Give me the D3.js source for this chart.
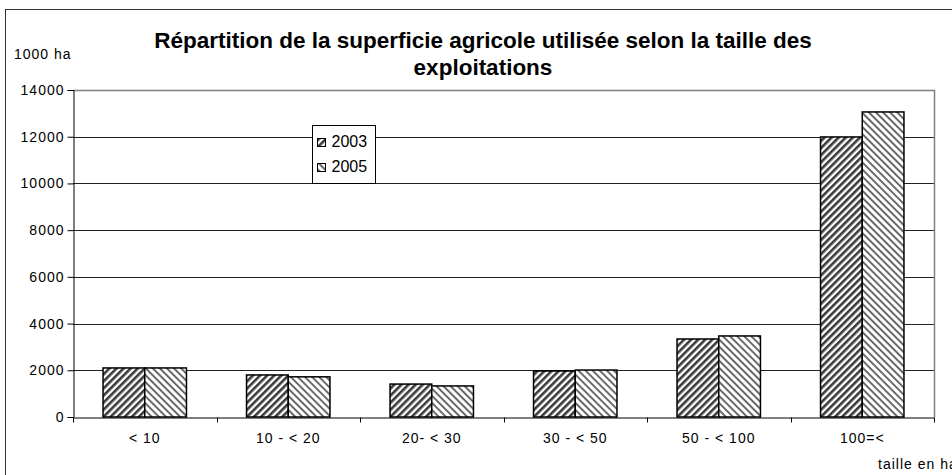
<!DOCTYPE html>
<html>
<head>
<meta charset="utf-8">
<script src="https://cdn.jsdelivr.net/npm/d3@7"></script>
<style>
body { margin: 0; background: #fff; }
svg { display: block; font-family: "Liberation Sans", Arial, sans-serif; }
</style>
</head>
<body>
<script>
// data
var categories = ["< 10", "10 - < 20", "20- < 30", "30 - < 50", "50 - < 100", "100=<"];
var years = ["2003", "2005"];
var values2003 = [2100, 1800, 1410, 1970, 3340, 11990];
var values2005 = [2100, 1720, 1330, 2010, 3470, 13060];
var yTicks = [0, 2000, 4000, 6000, 8000, 10000, 12000, 14000];

var W = 952, H = 475;
var plot = { left: 73, top: 90, right: 934, bottom: 417 };

var svg = d3.select("body").append("svg")
    .attr("width", W)
    .attr("height", H);

// hatch patterns
var defs = svg.append("defs");
var p1 = defs.append("pattern")
    .attr("id", "hatch2003")
    .attr("patternUnits", "userSpaceOnUse")
    .attr("width", 5).attr("height", 5)
    .attr("patternTransform", "rotate(45)");
p1.append("rect").attr("width", 5).attr("height", 5).attr("fill", "#fff");
p1.append("rect").attr("width", 2.6).attr("height", 5).attr("fill", "#3a3a3a");
var p2 = defs.append("pattern")
    .attr("id", "hatch2005")
    .attr("patternUnits", "userSpaceOnUse")
    .attr("width", 5).attr("height", 5)
    .attr("patternTransform", "rotate(-45)");
p2.append("rect").attr("width", 5).attr("height", 5).attr("fill", "#fff");
p2.append("rect").attr("width", 2).attr("height", 5).attr("fill", "#6a6a6a");

// outer frame
svg.append("rect")
    .attr("x", 5.5).attr("y", 9.5)
    .attr("width", 1000).attr("height", 1000)
    .attr("fill", "none")
    .attr("stroke", "#333")
    .attr("stroke-width", 1);

var x = d3.scaleBand()
    .domain(categories)
    .range([plot.left, plot.right]);
var x1 = d3.scaleBand()
    .domain(years)
    .range([0, x.bandwidth()])
    .paddingInner(0)
    .paddingOuter(0.72);
var y = d3.scaleLinear()
    .domain([0, 14000])
    .range([plot.bottom, plot.top]);

// grid lines
svg.append("g")
    .selectAll("line")
    .data(yTicks.filter(function (d) { return d > 0 && d < 14000; }))
    .enter().append("line")
    .attr("x1", plot.left).attr("x2", plot.right)
    .attr("y1", function (d) { return Math.round(y(d)) + 0.5; })
    .attr("y2", function (d) { return Math.round(y(d)) + 0.5; })
    .attr("stroke", "#222")
    .attr("stroke-width", 1);

// plot border top/right
svg.append("path")
    .attr("d", "M" + plot.left + "," + (plot.top + 0.5) + "H" + (plot.right + 0.5) + "V" + plot.bottom)
    .attr("fill", "none")
    .attr("stroke", "#808080")
    .attr("stroke-width", 1.5);

// bars
var groups = svg.append("g")
    .selectAll("g")
    .data(categories)
    .enter().append("g")
    .attr("transform", function (d) { return "translate(" + x(d) + ",0)"; });
groups.selectAll("rect")
    .data(function (d, i) {
        return [
            { year: "2003", v: values2003[i] },
            { year: "2005", v: values2005[i] }
        ];
    })
    .enter().append("rect")
    .attr("x", function (d) { return x1(d.year); })
    .attr("y", function (d) { return y(d.v); })
    .attr("width", x1.bandwidth())
    .attr("height", function (d) { return y(0) - y(d.v); })
    .attr("fill", function (d) { return "url(#hatch" + d.year + ")"; })
    .attr("stroke", "#000")
    .attr("stroke-width", 1.5);

// y axis
var yAxis = d3.axisLeft(y).tickValues(yTicks).tickSize(6).tickPadding(3).tickFormat(d3.format("d"));
var yg = svg.append("g")
    .attr("transform", "translate(" + (plot.left + 0.5) + ",0)")
    .call(yAxis);
yg.select(".domain").attr("stroke", "#000");
yg.selectAll("text").attr("font-size", 14).attr("letter-spacing", 1).attr("fill", "#000")
    .attr("font-family", "'Liberation Sans', Arial, sans-serif");

// x axis
var xAxis = d3.axisBottom(x).tickSize(0).tickPadding(16);
var xg = svg.append("g")
    .attr("transform", "translate(0," + (plot.bottom + 0.5) + ")")
    .call(xAxis);
xg.select(".domain").attr("stroke", "#000");
xg.selectAll("text").attr("font-size", 14).attr("letter-spacing", 1).attr("fill", "#000")
    .attr("font-family", "'Liberation Sans', Arial, sans-serif");
// boundary ticks between categories
xg.append("g").selectAll("line")
    .data(categories.concat(["end"]))
    .enter().append("line")
    .attr("x1", function (d, i) { return Math.round(plot.left + i * x.step()) + 0.5; })
    .attr("x2", function (d, i) { return Math.round(plot.left + i * x.step()) + 0.5; })
    .attr("y1", 0).attr("y2", 5)
    .attr("stroke", "#000");

// title
var title = svg.append("text")
    .attr("text-anchor", "middle")
    .attr("font-size", 22.5)
    .attr("font-weight", "bold");
title.append("tspan").attr("x", 483).attr("y", 48)
    .text("Répartition de la superficie agricole utilisée selon la taille des");
title.append("tspan").attr("x", 483).attr("y", 75)
    .text("exploitations");

// axis captions
svg.append("text")
    .attr("x", 14).attr("y", 59)
    .attr("font-size", 14).attr("letter-spacing", 1)
    .text("1000 ha");
svg.append("text")
    .attr("x", 878).attr("y", 469)
    .attr("font-size", 14).attr("letter-spacing", 1)
    .text("taille en ha");

// legend
var lg = svg.append("g").attr("transform", "translate(312,125)");
lg.append("rect")
    .attr("x", 0.5).attr("y", 0.5)
    .attr("width", 63).attr("height", 58)
    .attr("fill", "#fff")
    .attr("stroke", "#000");
var items = lg.selectAll("g.item")
    .data(years)
    .enter().append("g")
    .attr("class", "item")
    .attr("transform", function (d, i) { return "translate(5.5," + (13.5 + i * 25) + ")"; });
items.append("rect")
    .attr("width", 8).attr("height", 8)
    .attr("fill", function (d) { return "url(#hatch" + d + ")"; })
    .attr("stroke", "#000");
items.append("text")
    .attr("x", 14).attr("y", 8)
    .attr("font-size", 16)
    .text(function (d) { return d; });
</script>
</body>
</html>
